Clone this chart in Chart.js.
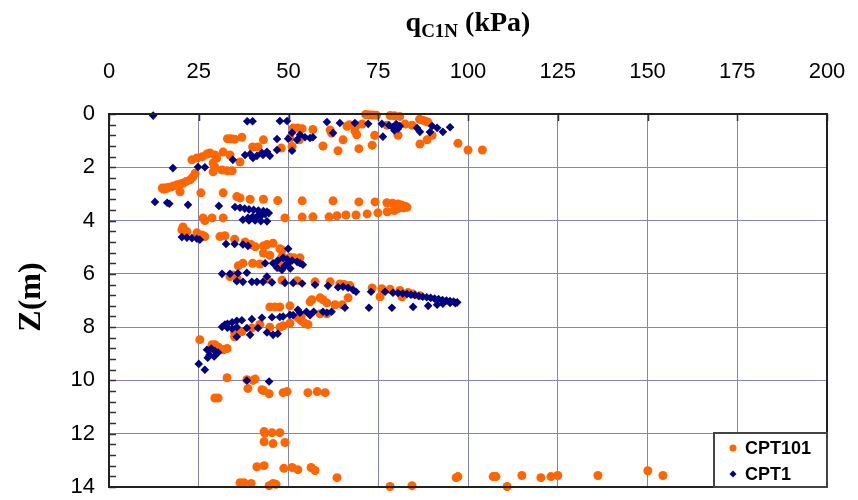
<!DOCTYPE html>
<html>
<head>
<meta charset="utf-8">
<script src="https://cdn.jsdelivr.net/npm/chart.js@4.4.1/dist/chart.umd.min.js"></script>
<style>
html,body{margin:0;padding:0;background:#fff;}
canvas{display:block;}
</style>
</head>
<body>
<canvas id="c" width="858" height="500"></canvas>
<script>
// ---- data (qC1N in kPa, depth Z in m) ----
const xTicks = [0, 25, 50, 75, 100, 125, 150, 175, 200];
const yTicks = [0, 2, 4, 6, 8, 10, 12, 14];
const seriesNames = ['CPT101', 'CPT1'];

const cpt101Q = [71.5,72.5,73.5,74.5,78.3,79.5,81,86.5,87.3,88,88.8,84.4,82.5,77.4,80.5,
70.5,67,69,66.3,68.5,69,65.2,63.8,59.6,61.6,62,69.6,73.3,74,56.8,51.3,52.6,53.8,50.4,51,86.6,88.6,90,97.2,100,104,
33,34,35,37,40,41.5,43,48,53,
31.8,33.7,36.5,23.1,24.5,26,27.3,28.1,29.5,30,29,29.5,29,31.5,32.9,34.3,
24,23.4,22.6,21.5,20.6,19.8,18.9,18,17.2,16.4,15.6,14.8,15.2,16,
19.8,25.6,31.8,35.6,36.5,39.3,43,47,53.8,62.4,69.6,74.1,77.4,79,80.5,81.5,82.5,83,82,80.5,79.5,77.5,74.9,71.9,68.8,66,63.5,61.3,56.8,53.8,49,31.8,28.7,26.2,26.7,
20.6,20.3,21.7,24.5,25.9,26.7,30.9,32.3,35,37.9,39.5,40.7,43,44,45.7,47.6,48.2,
43,44.8,48.2,50.4,51.5,53.2,37.3,36,40,42,48.5,47.6,
33.7,34.5,35.6,44,48.2,52.4,57.4,61.6,64.3,65.5,67.1,73.3,76,78.3,81,83.3,84.7,86.6,75.5,81.6,66.6,56.5,58.8,59.6,60.7,63,65,44.8,46.2,47.6,50.4,56,58.8,60.7,
52.6,53.5,54.5,55.4,53.5,50.4,48.5,47.6,44.8,42,39.8,37,35,35,25.3,28.7,29.5,30.5,31.8,32.9,
32.9,38.4,40.1,40.7,38.7,42.6,43,44.6,48.5,49.6,55.4,58,60.2,29.5,30.4,
43.2,43.4,45.4,47.6,43.2,45.7,49,
41.2,43.2,48.7,51,52.6,56.3,57.4,63.5,36.5,37.6,39.6,44.6,45.7,46.5,
78.3,84.4,96.7,97.2,107,107.8,110.9,115,120.3,123.1,125,136.2,150.1,154.3];
const cpt101Z = [0.02,0.03,0.04,0.05,0.06,0.07,0.09,0.2,0.23,0.26,0.3,0.42,0.38,0.42,0.8,
0.38,0.4,0.42,0.46,0.64,0.78,0.97,1.38,1.2,0.6,0.72,1.3,1.17,0.8,0.58,0.53,0.53,0.55,0.9,1.22,1.13,0.97,0.8,1.1,1.35,1.35,
0.93,0.93,0.95,0.87,1.24,1.24,0.97,1.28,0.97,
1.43,1.54,1.8,1.72,1.65,1.6,1.5,1.46,1.54,1.65,1.84,2.0,2.17,2.1,2.13,2.13,
2.22,2.36,2.47,2.53,2.6,2.63,2.66,2.7,2.74,2.76,2.78,2.78,2.82,2.8,
2.92,2.96,2.96,3.1,3.15,3.2,3.2,3.25,3.26,3.26,3.3,3.3,3.33,3.35,3.38,3.42,3.46,3.5,3.52,3.55,3.62,3.67,3.71,3.75,3.79,3.79,3.82,3.86,3.86,3.87,3.9,3.9,3.9,3.9,4.0,
4.24,4.35,4.42,4.46,4.54,4.6,4.6,4.57,4.7,4.8,4.9,4.98,4.95,4.9,4.85,5.06,5.1,
5.22,5.3,5.35,5.38,5.4,5.4,5.6,5.7,5.6,5.63,5.66,5.77,
6.1,6.04,6.15,6.2,6.24,6.26,6.3,6.3,6.38,6.4,6.44,6.53,6.56,6.58,6.62,6.7,6.76,6.82,6.86,6.86,6.9,6.97,6.9,6.97,7.09,7.16,7.16,7.24,7.24,7.24,7.2,7.05,7.5,7.5,
7.65,7.75,7.85,7.9,7.6,7.85,7.95,8.0,8.0,7.9,8.03,8.17,8.2,8.36,8.47,8.66,8.66,8.75,8.85,8.8,
9.9,9.97,10.0,9.95,10.3,10.35,10.38,10.5,10.46,10.42,10.46,10.42,10.46,10.66,10.66,
11.92,11.98,11.96,11.96,12.3,12.37,12.33,
13.24,13.2,13.3,13.27,13.35,13.27,13.38,13.65,13.84,13.84,13.87,13.95,13.87,13.9,
13.98,13.95,13.65,13.61,13.61,13.61,13.98,13.57,13.65,13.61,13.57,13.57,13.39,13.57];

const cpt1Q = [12.3,38.5,40,47.6,49.6,60.7,64.3,68.5,72.2,76,78,79,80,80.5,81,79.5,85.8,86.6,90,91.4,93,95,89.4,62.4,76.3,51,49.9,51,53.2,52.4,54.6,56,56.8,
46.8,46.8,44,42.6,41.2,42.9,44.8,39.3,37.9,40.1,34.5,17.8,24.8,26.7,
12.8,16.2,16.8,22,30.6,35.1,36.5,37.8,39,40.3,41.6,43,44,44.5,43.5,42.5,41.3,40,38.7,37.3,39,40.7,42.3,44,
20.3,21.7,23.1,24.5,25.3,32.6,35,37.3,38.7,49.9,48.5,49.6,51,52.4,43.5,45.7,46.8,48.2,47,50,53.2,54,49,50.5,
31.5,33.7,35.9,38.4,44,35.6,37.3,39.8,41.2,42.9,45.4,49,51.3,53.8,57.4,61,63.8,65.2,66.6,68,68.8,73,76.9,79.1,80.5,81.8,83,84.1,85.2,86.3,87.4,88.5,89.6,90.7,91.8,92.9,94,95,96,97,96.5,95,93,91.4,88.9,84.7,78.8,72.4,65.7,62,60.7,59.6,57,55,53.2,52.6,56,51.3,50.4,48.5,47.6,45.4,42.6,39.8,37,35.6,34.3,33,32.3,31.5,33,34.3,35.6,38.4,41.5,39.3,35.6,44,45.7,47,
27.3,28.5,29.5,30.4,28,29.3,27.5,25,26.7,38.4,44.6];
const cpt1Z = [0.06,0.27,0.27,0.26,0.26,0.3,0.34,0.34,0.37,0.37,0.42,0.5,0.38,0.55,0.45,0.62,0.53,0.67,0.45,0.52,0.67,0.5,0.68,0.71,0.85,0.7,0.93,1.38,0.78,0.97,0.87,0.9,0.87,
0.94,1.35,1.42,1.46,1.57,1.54,1.57,1.5,1.54,1.65,1.72,2.03,1.99,2.0,
3.3,3.33,3.37,3.41,3.45,3.49,3.52,3.55,3.58,3.6,3.62,3.64,3.67,3.72,3.76,3.8,3.84,3.86,3.9,3.97,4.0,4.0,4.02,4.03,
4.62,4.64,4.66,4.68,4.72,4.88,4.88,4.9,4.95,5.06,5.4,5.45,5.5,5.55,5.6,5.6,5.77,5.85,5.5,5.6,5.6,5.66,5.7,5.8,
6.0,6.0,5.98,5.96,6.1,6.28,6.3,6.3,6.3,6.3,6.32,6.34,6.34,6.36,6.41,6.45,6.5,6.48,6.52,6.6,6.67,6.67,6.67,6.71,6.72,6.74,6.76,6.78,6.8,6.83,6.86,6.88,6.9,6.93,6.95,6.98,7.0,7.02,7.04,7.07,7.1,7.09,7.12,7.16,7.2,7.24,7.27,7.27,7.27,7.42,7.46,7.42,7.42,7.42,7.46,7.35,7.55,7.55,7.54,7.6,7.62,7.63,7.65,7.7,7.74,7.76,7.82,7.87,7.9,7.99,8.02,8.06,8.0,8.03,8.03,8.29,8.36,8.2,8.29,8.25,
8.85,8.8,8.9,8.95,9.05,9.1,9.15,9.38,9.6,10.0,10.04];

// ---- styles ----
const ORANGE = '#FF6600';
const NAVY = '#000080';
const GRID = '#8585b5';

function toPoints(qs, zs) { return qs.map((q, i) => ({ x: q, y: zs[i] })); }

const decor = {
  id: 'decor',
  afterDraw(chart) {
    const { ctx, chartArea: a, scales } = chart;
    const xs = scales.x, ys = scales.y;
    ctx.save();
    // left minor ticks and top ticks
    ctx.strokeStyle = '#333';
    ctx.lineWidth = 1.5;
    ctx.beginPath();
    for (let v = 0; v <= 14.001; v += 0.4) {
      const py = Math.round(ys.getPixelForValue(v)) + 0.5;
      ctx.moveTo(a.left, py); ctx.lineTo(a.left + 7, py);
    }
    for (const v of xTicks) {
      const px = Math.round(xs.getPixelForValue(v)) + 0.5;
      ctx.moveTo(px, a.top); ctx.lineTo(px, a.top + 7);
    }
    ctx.stroke();
    // plot border
    ctx.strokeStyle = '#222';
    ctx.lineWidth = 2;
    ctx.strokeRect(a.left, a.top, a.right - a.left, a.bottom - a.top);

    // x title: q_C1N (kPa)
    ctx.fillStyle = '#000';
    ctx.textBaseline = 'alphabetic';
    const big = 'bold 28px "Liberation Serif", "Times New Roman", serif';
    const small = 'bold 19px "Liberation Serif", "Times New Roman", serif';
    ctx.font = big; const wq = ctx.measureText('q').width;
    ctx.font = small; const ws = ctx.measureText('C1N').width;
    ctx.font = big; const wr = ctx.measureText(' (kPa)').width;
    let tx = 468 - (wq + ws + wr) / 2;
    const tb = 31;
    ctx.font = big; ctx.textAlign = 'left';
    ctx.fillText('q', tx, tb); tx += wq;
    ctx.font = small; ctx.fillText('C1N', tx, tb + 6); tx += ws;
    ctx.font = big; ctx.fillText(' (kPa)', tx, tb);

    // y title
    ctx.save();
    ctx.translate(40, 297);
    ctx.rotate(-Math.PI / 2);
    ctx.textAlign = 'center';
    ctx.textBaseline = 'alphabetic';
    ctx.font = 'bold 32px "Liberation Serif", "Times New Roman", serif';
    ctx.fillText('Z(m)', 0, 0);
    ctx.restore();

    // legend
    const lx = 714, ly = 433, lw = a.right - lx, lh = a.bottom - ly;
    ctx.fillStyle = '#fff';
    ctx.fillRect(lx, ly, lw, lh);
    ctx.strokeStyle = '#444';
    ctx.lineWidth = 2;
    ctx.strokeRect(lx, ly, lw, lh);
    const rows = [ly + 15, ly + 41];
    ctx.font = 'bold 18px "Liberation Sans", Arial, sans-serif';
    ctx.textAlign = 'left';
    ctx.textBaseline = 'middle';
    chart.data.datasets.forEach((ds, i) => {
      const cy = rows[i];
      ctx.fillStyle = ds.backgroundColor;
      ctx.beginPath();
      if (ds.pointStyle === 'circle') {
        ctx.arc(733, cy, 3.5, 0, Math.PI * 2);
      } else {
        ctx.moveTo(733, cy - 3.5); ctx.lineTo(736.5, cy); ctx.lineTo(733, cy + 3.5); ctx.lineTo(729.5, cy);
        ctx.closePath();
      }
      ctx.fill();
      ctx.fillStyle = '#000';
      ctx.fillText(ds.label, 745, cy + 1);
    });
    ctx.restore();
  }
};

new Chart(document.getElementById('c').getContext('2d'), {
  type: 'scatter',
  data: {
    datasets: [
      { label: seriesNames[0], data: toPoints(cpt101Q, cpt101Z), pointStyle: 'circle', pointRadius: 4.5,
        backgroundColor: ORANGE, borderColor: ORANGE, borderWidth: 0, order: 2, clip: false },
      { label: seriesNames[1], data: toPoints(cpt1Q, cpt1Z), pointStyle: 'rectRot', pointRadius: 4.3,
        backgroundColor: NAVY, borderColor: NAVY, borderWidth: 0, order: 1, clip: false }
    ]
  },
  options: {
    responsive: false,
    animation: false,
    devicePixelRatio: 1,
    layout: { padding: { top: 0, left: 0, right: 31, bottom: 13 } },
    plugins: { legend: { display: false }, tooltip: { enabled: false } },
    scales: {
      x: {
        type: 'linear', position: 'top', min: 0, max: 200,
        afterBuildTicks(s) { s.ticks = xTicks.map(v => ({ value: v })); },
        ticks: { color: '#000', padding: 29, font: { family: '"Liberation Sans", Arial, sans-serif', size: 22 } },
        grid: { color: GRID, lineWidth: 1, drawTicks: false },
        border: { display: false },
        afterFit(s) { s.height = 114; s.paddingLeft = 0; s.paddingRight = 0; }
      },
      y: {
        type: 'linear', reverse: true, min: 0, max: 14,
        afterBuildTicks(s) { s.ticks = yTicks.map(v => ({ value: v })); },
        ticks: { color: '#000', padding: 14, font: { family: '"Liberation Sans", Arial, sans-serif', size: 22 } },
        grid: { color: GRID, lineWidth: 1, drawTicks: false },
        border: { display: false },
        afterFit(s) { s.width = 109; s.paddingTop = 0; s.paddingBottom = 0; }
      }
    }
  },
  plugins: [decor]
});
</script>
</body>
</html>
